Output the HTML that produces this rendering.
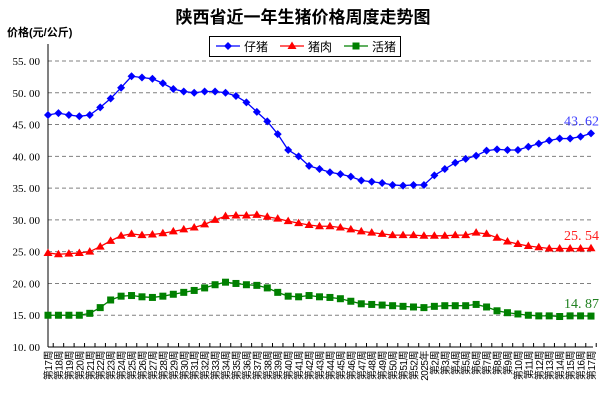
<!DOCTYPE html>
<html><head><meta charset="utf-8"><style>
html,body{margin:0;padding:0;background:#fff;}
svg{display:block;font-family:"Liberation Sans","Noto Sans CJK SC",sans-serif;}
</style></head><body>
<svg id="c" width="606" height="400" xmlns="http://www.w3.org/2000/svg"></svg>
<script>
const NS="http://www.w3.org/2000/svg",s=document.getElementById('c');
function el(t,a,txt){const e=document.createElementNS(NS,t);for(const k in a)e.setAttribute(k,a[k]);if(txt!=null)e.textContent=txt;s.appendChild(e);return e;}
const x0=48,x1=591,n=53,dx=(x1-x0)/(n-1);
const Y=v=>61+(55-v)*6.356;
const X=i=>x0+i*dx;
el('text',{x:303,y:23,'text-anchor':'middle','font-size':17,'font-weight':'bold',fill:'#000'},'陕西省近一年生猪价格周度走势图');
el('text',{x:7,y:36,'font-size':11,'font-weight':'bold',fill:'#000'},'价格(元/公斤)');
for(let v=15;v<=55;v+=5){el('line',{x1:48,x2:593,y1:Y(v),y2:Y(v),stroke:'#808080','stroke-dasharray':'4,3','stroke-width':1});}
for(let v=10;v<=55;v+=5){el('text',{x:40,y:Y(v)+4,'text-anchor':'end','font-size':11,fill:'#000','font-family':'Liberation Serif,serif'},v.toFixed(2).replace('.', '. '));}
el('line',{x1:48,x2:48,y1:44,y2:347,stroke:'#000'});
el('line',{x1:48,x2:593,y1:347,y2:347,stroke:'#000'});
for(let i=0;i<=n;i++){const xx=x0-dx/2+i*dx;if(xx<48)continue;el('line',{x1:xx,x2:xx,y1:343,y2:347,stroke:'#000'});}
const labs=[];for(let w=17;w<=52;w++)labs.push('第'+w+'周');labs.push('2025年');for(let w=2;w<=17;w++)labs.push('第'+w+'周');
labs.forEach((l,i)=>{el('text',{x:0,y:0,'font-size':10,fill:'#000','text-anchor':'end',transform:`translate(${X(i)+4},351) rotate(-90)`,'letter-spacing':'-0.5'},l);});
const A=[46.5,46.8,46.5,46.3,46.5,47.7,49.1,50.8,52.6,52.4,52.2,51.5,50.6,50.2,50.0,50.2,50.2,50.0,49.5,48.5,47.0,45.5,43.5,41.0,40.0,38.5,38.0,37.5,37.2,36.8,36.2,36.0,35.8,35.5,35.4,35.5,35.5,37.0,38.0,39.0,39.6,40.1,40.9,41.1,41.0,41.0,41.5,42.0,42.5,42.8,42.8,43.1,43.62];
const B=[24.8,24.6,24.7,24.8,25.0,25.8,26.7,27.5,27.8,27.6,27.7,27.9,28.2,28.5,28.8,29.3,30.0,30.6,30.7,30.7,30.8,30.5,30.2,29.8,29.5,29.2,29.0,29.0,28.8,28.5,28.2,28.0,27.8,27.6,27.6,27.6,27.5,27.5,27.5,27.6,27.6,28.0,27.8,27.2,26.6,26.2,25.9,25.7,25.5,25.5,25.5,25.5,25.54];
const C=[15.0,15.0,15.0,15.0,15.3,16.2,17.4,18.0,18.1,17.9,17.8,18.0,18.3,18.6,18.9,19.3,19.8,20.2,20.0,19.8,19.7,19.3,18.6,18.0,17.9,18.1,17.9,17.8,17.6,17.2,16.8,16.7,16.6,16.5,16.4,16.3,16.2,16.4,16.5,16.5,16.5,16.7,16.3,15.7,15.4,15.2,15.0,14.9,14.9,14.8,14.9,14.9,14.87];
function mark(t,x,y,c){
 if(t==0)el('path',{d:`M${x} ${y-4}L${x+4} ${y}L${x} ${y+4}L${x-4} ${y}Z`,fill:c});
 else if(t==1)el('path',{d:`M${x} ${y-4.5}L${x+4.5} ${y+3}L${x-4.5} ${y+3}Z`,fill:c});
 else el('rect',{x:x-3.5,y:y-3.5,width:7,height:7,fill:c});
}
[[A,'#0000FF',0],[B,'#FF0000',1],[C,'#008000',2]].forEach(([d,c,t])=>{
 el('polyline',{points:d.map((v,i)=>X(i)+','+Y(v)).join(' '),fill:'none',stroke:c,'stroke-width':1.3});
 d.forEach((v,i)=>mark(t,X(i),Y(v),c));
});
el('text',{x:599,y:Y(43.62)-8,'text-anchor':'end','font-size':14,fill:'#4040ff','font-family':'Liberation Serif,serif'},'43. 62');
el('text',{x:599,y:Y(25.54)-8,'text-anchor':'end','font-size':14,fill:'#ff2020','font-family':'Liberation Serif,serif'},'25. 54');
el('text',{x:599,y:Y(14.87)-8,'text-anchor':'end','font-size':14,fill:'#208020','font-family':'Liberation Serif,serif'},'14. 87');
el('rect',{x:209.5,y:36.5,width:191,height:20,fill:'#fff',stroke:'#000'});
[['仔猪','#0000FF',0,216],['猪肉','#FF0000',1,280],['活猪','#008000',2,344]].forEach(([l,c,t,x])=>{
 el('line',{x1:x,x2:x+24,y1:46,y2:46,stroke:c,'stroke-width':1.3});mark(t,x+12,46,c);
 el('text',{x:x+28,y:51,'font-size':12,fill:'#000'},l);
});
</script>
</body></html>
